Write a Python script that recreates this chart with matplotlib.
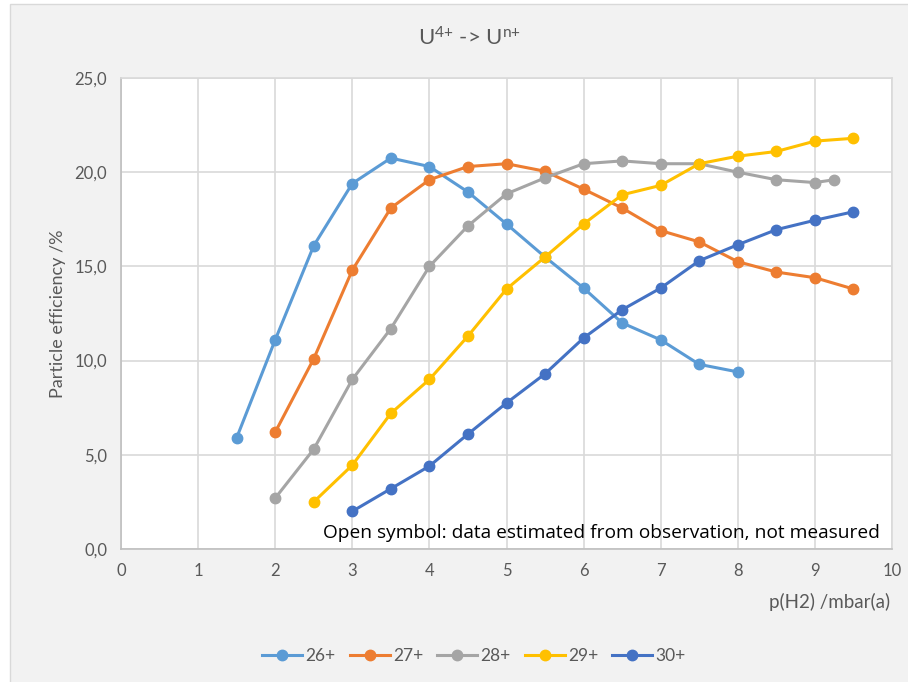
import matplotlib.pyplot as plt
from matplotlib.patches import Rectangle
from matplotlib.lines import Line2D
from matplotlib.ticker import FuncFormatter

plt.rcParams['font.family'] = ['Lato', 'DejaVu Sans']
plt.rcParams['mathtext.fontset'] = 'custom'
plt.rcParams['mathtext.rm'] = 'Lato'
plt.rcParams['mathtext.it'] = 'Lato'

# p(H2) in mbar(a) and particle efficiency in % per charge state
x_26 = [1.5, 2, 2.5, 3, 3.5, 4, 4.5, 5, 5.5, 6, 6.5, 7, 7.5, 8]
y_26 = [5.9, 11.1, 16.1, 19.4, 20.75, 20.3, 18.95, 17.25, 15.5, 13.85, 12.0, 11.1, 9.8, 9.4]

x_27 = [2, 2.5, 3, 3.5, 4, 4.5, 5, 5.5, 6, 6.5, 7, 7.5, 8, 8.5, 9, 9.5]
y_27 = [6.2, 10.1, 14.8, 18.1, 19.6, 20.3, 20.45, 20.05, 19.1, 18.1, 16.9, 16.3, 15.25, 14.7, 14.4, 13.8]

x_28 = [2, 2.5, 3, 3.5, 4, 4.5, 5, 5.5, 6, 6.5, 7, 7.5, 8, 8.5, 9, 9.25]
y_28 = [2.7, 5.3, 9.0, 11.7, 15.0, 17.15, 18.85, 19.7, 20.45, 20.6, 20.45, 20.45, 20.0, 19.6, 19.45, 19.6]

x_29 = [2.5, 3, 3.5, 4, 4.5, 5, 5.5, 6, 6.5, 7, 7.5, 8, 8.5, 9, 9.5]
y_29 = [2.5, 4.45, 7.2, 9.0, 11.3, 13.8, 15.5, 17.25, 18.8, 19.3, 20.45, 20.85, 21.1, 21.65, 21.8]

x_30 = [3, 3.5, 4, 4.5, 5, 5.5, 6, 6.5, 7, 7.5, 8, 8.5, 9, 9.5]
y_30 = [2.0, 3.2, 4.4, 6.1, 7.75, 9.3, 11.2, 12.7, 13.85, 15.3, 16.15, 16.95, 17.45, 17.9]

labels = ['26+', '27+', '28+', '29+', '30+']
colors = ['#5b9bd5', '#ed7d31', '#a5a5a5', '#ffc000', '#4472c4']
series = [(x_26, y_26), (x_27, y_27), (x_28, y_28), (x_29, y_29), (x_30, y_30)]

txt = '#595959'
grid = '#d9d9d9'

fig = plt.figure(figsize=(9.08, 6.82), dpi=100)
fig.patch.set_facecolor('white')
# chart background panel
fig.patches.append(Rectangle((10 / 908, -0.05), 1.0, 1 - 4 / 682 + 0.05,
                             transform=fig.transFigure, facecolor='#f2f2f2',
                             edgecolor=grid, linewidth=1.0, zorder=-10))

ax = fig.add_axes([121 / 908, 133 / 682, 771 / 908, 471 / 682])
ax.set_facecolor('white')

for (xs, ys), lab, c in zip(series, labels, colors):
    ax.plot(xs, ys, '-o', color=c, lw=2.2, markersize=7.5, label=lab,
            solid_capstyle='round', clip_on=False)

ax.set_xlim(0, 10)
ax.set_ylim(0, 25)
ax.set_xticks(range(0, 11))
ax.set_yticks([0, 5, 10, 15, 20, 25])
ax.yaxis.set_major_formatter(FuncFormatter(lambda v, p: f'{v:.1f}'.replace('.', ',')))
ax.grid(True, color=grid, lw=1.2)
ax.set_axisbelow(True)
ax.tick_params(length=0, colors=txt, labelsize=12, pad=10)
for s in ['top', 'right']:
    ax.spines[s].set_color(grid)
    ax.spines[s].set_linewidth(1.2)
for s in ['left', 'bottom']:
    ax.spines[s].set_color('#bfbfbf')
    ax.spines[s].set_linewidth(1.2)

ax.set_ylabel('Particle efficiency /%', color=txt, fontsize=13, labelpad=6)
fig.text(890 / 908, 1 - 602 / 682, 'p(H2) /mbar(a)', color=txt, fontsize=13.5,
         ha='right', va='center')
fig.text(470 / 908, 1 - 38 / 682, r'U$^{\mathrm{4{+}}}$ -> U$^{\mathrm{n{+}}}$', color=txt,
         fontsize=16, ha='center', va='center')

ax.text(0.984, 0.034, 'Open symbol: data estimated from observation, not measured',
        transform=ax.transAxes, ha='right', va='center', fontsize=13.8,
        color='black', family=['Open Sans', 'DejaVu Sans'])

handles = [Line2D([], [], color=c, lw=2.2, marker='o', markersize=7.5) for c in colors]
leg = fig.legend(handles, labels, loc='center', bbox_to_anchor=(474 / 908, 1 - 656 / 682),
                 ncol=5, frameon=False, fontsize=12.5, handlelength=2.3,
                 columnspacing=0.8, handletextpad=0.2)
for t in leg.get_texts():
    t.set_color(txt)

fig.savefig('out.png', dpi=100, facecolor=fig.get_facecolor())
